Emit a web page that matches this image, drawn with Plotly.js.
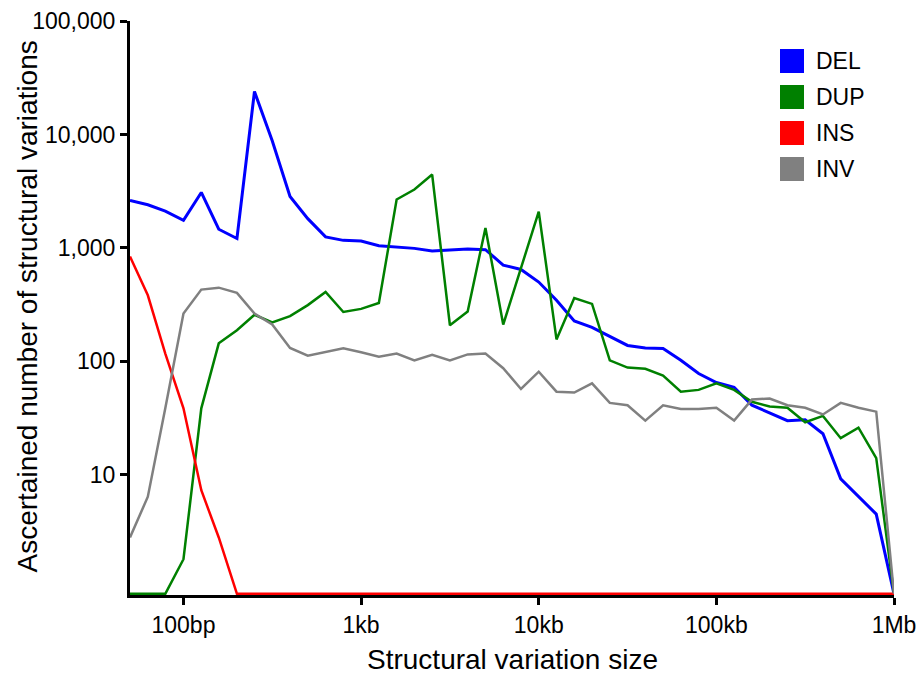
<!DOCTYPE html>
<html>
<head>
<meta charset="utf-8">
<script src="https://cdn.plot.ly/plotly-3.0.1.min.js"></script>
<style>
  html, body { margin: 0; padding: 0; background: #ffffff; }
  #chart { width: 922px; height: 675px; }
</style>
</head>
<body>
<div id="chart"></div>
<script>
// Size bins (bp), ten per decade from 50 bp to 1 Mb
const sizes = [50, 63, 79, 100, 126, 158, 200, 251, 316, 398, 501, 631, 794,
  1000, 1259, 1585, 1995, 2512, 3162, 3981, 5012, 6310, 7943,
  10000, 12589, 15849, 19953, 25119, 31623, 39811, 50119, 63096, 79433,
  100000, 125893, 158489, 199526, 251189, 316228, 398107, 501187, 630957, 794328,
  1000000];

// Counts per size bin for each structural variation type
const del = [2620, 2400, 2110, 1750, 3080, 1460, 1210, 23900, 8800, 2840, 1810, 1250, 1165,
  1150, 1045, 1015, 990, 940, 955, 975, 965, 705, 645,
  500, 345, 227, 199, 167, 138, 131, 130, 102, 78,
  65, 59, 41, 35, 30, 30.5, 23, 9.2, 6.4, 4.5,
  0];
const dup = [0, 0, 0, 1.8, 38.5, 144, 188, 257, 220, 250, 313, 409, 272,
  290, 327, 2670, 3270, 4430, 208, 275, 1500, 211, 665,
  2090, 156, 362, 321, 102, 88, 86, 75, 54, 56,
  64, 56, 44, 40, 39, 29, 33, 21, 26, 14,
  0];
const ins = [840, 382, 117, 38.5, 7.3, 2.8, 0, 0, 0, 0, 0, 0, 0,
  0, 0, 0, 0, 0, 0, 0, 0, 0, 0,
  0, 0, 0, 0, 0, 0, 0, 0, 0, 0,
  0, 0, 0, 0, 0, 0, 0, 0, 0, 0,
  0];
const inv = [2.8, 6.4, 38.5, 264, 429, 446, 401, 264, 211, 131, 112, 121, 130,
  120, 110, 117, 102, 114, 102, 115, 117, 87, 57,
  81, 54, 53, 64, 43, 41, 30, 41, 38, 38,
  39, 30, 46, 47, 41, 39, 34, 43, 39, 36,
  0];

const typeNames = ['DEL', 'DUP', 'INS', 'INV'];
const typeColors = ['#0000ff', '#008000', '#ff0000', '#808080'];
const typeCounts = [del, dup, ins, inv];

const xTickVals = [100, 1000, 10000, 100000, 1000000];
const xTickText = ['100bp', '1kb', '10kb', '100kb', '1Mb'];
const yTickVals = [10, 100, 1000, 10000, 100000];
const yTickText = ['10', '100', '1,000', '10,000', '100,000'];

// Log axis: empty bins sit on the floor of the axis
const Y_MIN_LOG = -0.06;
const FLOOR = Math.pow(10, -0.05);

const FONT = 'Liberation Sans, Arial, Helvetica, sans-serif';
const M = { l: 130, r: 28, t: 21, b: 80 };
const W = 922, H = 675;
const plotW = W - M.l - M.r, plotH = H - M.t - M.b;

const traces = typeNames.map((name, i) => ({
  type: 'scatter',
  mode: 'lines',
  name: name,
  x: sizes,
  y: typeCounts[i].map(v => (v > 0 ? v : FLOOR)),
  line: { color: typeColors[i], width: i === 0 ? 3 : 2.5 },
  hoverinfo: 'skip',
  showlegend: false
}));

// Legend: colour squares with labels, top right of the plot
const shapes = [];
const annotations = [];
const legX = 780, legY0 = 61, legStep = 36, sq = 24;
typeNames.forEach((name, i) => {
  const cy = legY0 + i * legStep;
  shapes.push({
    type: 'rect', xref: 'paper', yref: 'paper',
    x0: (legX - M.l) / plotW, x1: (legX + sq - M.l) / plotW,
    y0: (M.t + plotH - (cy + sq / 2)) / plotH, y1: (M.t + plotH - (cy - sq / 2)) / plotH,
    fillcolor: typeColors[i], line: { width: 0 }
  });
  annotations.push({
    xref: 'paper', yref: 'paper',
    x: (legX + sq + 10 - M.l) / plotW, y: (M.t + plotH - cy) / plotH,
    xanchor: 'left', yanchor: 'middle', showarrow: false,
    text: name, font: { family: FONT, size: 23, color: '#000' }
  });
});

// Axis titles
annotations.push({
  xref: 'paper', yref: 'paper',
  x: 0.5, y: (M.t + plotH - 659) / plotH,
  xanchor: 'center', yanchor: 'middle', showarrow: false,
  text: 'Structural variation size',
  font: { family: FONT, size: 28, color: '#000' }
});
annotations.push({
  xref: 'paper', yref: 'paper',
  x: (27 - M.l) / plotW, y: (M.t + plotH - 306.5) / plotH,
  xanchor: 'center', yanchor: 'middle', showarrow: false, textangle: -90,
  text: 'Ascertained number of structural variations',
  font: { family: FONT, size: 28, color: '#000' }
});

const axisCommon = {
  type: 'log',
  showline: true, linecolor: '#000', linewidth: 3,
  ticks: 'outside', ticklen: 7, tickwidth: 3, tickcolor: '#000',
  showgrid: false, zeroline: false,
  tickfont: { family: FONT, size: 23, color: '#000' },
  tickmode: 'array',
  fixedrange: true
};

const layout = {
  width: W, height: H,
  margin: M,
  paper_bgcolor: '#ffffff', plot_bgcolor: '#ffffff',
  showlegend: false,
  xaxis: Object.assign({}, axisCommon, {
    range: [Math.log10(50), 6],
    tickvals: xTickVals, ticktext: xTickText
  }),
  yaxis: Object.assign({}, axisCommon, {
    range: [Y_MIN_LOG, 5],
    tickvals: yTickVals, ticktext: yTickText
  }),
  shapes: shapes,
  annotations: annotations
};

Plotly.newPlot('chart', traces, layout, { displayModeBar: false, staticPlot: true });
</script>
</body>
</html>
